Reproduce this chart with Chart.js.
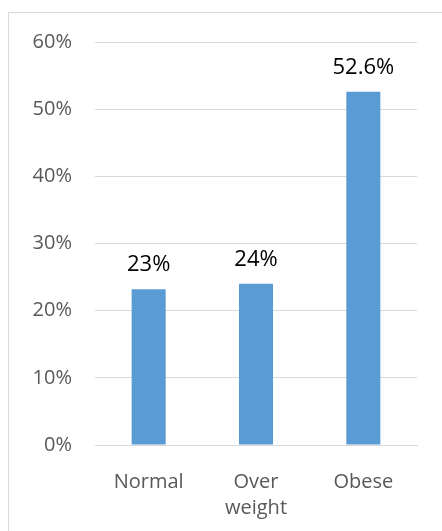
<!DOCTYPE html>
<html>
<head>
<meta charset="utf-8">
<script src="https://cdn.jsdelivr.net/npm/chart.js@4"></script>
<style>
  html, body { margin: 0; padding: 0; background: #fff; }
  #wrap { position: relative; width: 442px; height: 531px; overflow: hidden; }
  #frame { position: absolute; left: 8px; top: 12px; width: 460px; height: 560px; border: 1px solid #d9d9d9; }
  #chart { position: absolute; left: 0; top: 0; }
</style>
</head>
<body>
<div id="wrap">
  <div id="frame"></div>
  <canvas id="chart" width="442" height="531"></canvas>
</div>
<script>
// data
const categories = ['Normal', ['Over', 'weight'], 'Obese'];
const values = [23.2, 24.0, 52.6];
const valueLabels = ['23%', '24%', '52.6%'];
const yTicks = [0, 10, 20, 30, 40, 50, 60];

const FONT = "'Open Sans', 'DejaVu Sans', sans-serif";

// draws value labels above each bar
const barLabels = {
  id: 'barLabels',
  afterDatasetsDraw(chart) {
    const { ctx } = chart;
    const bars = chart.getDatasetMeta(0).data;
    ctx.save();
    ctx.font = '22px ' + FONT;
    ctx.fillStyle = '#000';
    ctx.textAlign = 'center';
    ctx.textBaseline = 'alphabetic';
    bars.forEach((bar, i) => {
      ctx.fillText(valueLabels[i], bar.x, bar.y - 18);
    });
    ctx.restore();
  }
};

new Chart(document.getElementById('chart').getContext('2d'), {
  type: 'bar',
  data: {
    labels: categories,
    datasets: [{
      data: values,
      backgroundColor: '#5b9bd5',
      borderWidth: 0,
      categoryPercentage: 1,
      barPercentage: 0.317
    }]
  },
  options: {
    responsive: false,
    animation: false,
    layout: { padding: { left: 0, right: 25, top: 42, bottom: 0 } },
    plugins: {
      legend: { display: false },
      tooltip: { enabled: false }
    },
    scales: {
      x: {
        grid: { display: false },
        border: { display: true, color: '#d9d9d9' },
        ticks: {
          color: '#595959',
          font: { family: FONT, size: 20, lineHeight: 1.3 },
          padding: 16,
          maxRotation: 0,
          autoSkip: false
        },
        afterFit(scale) { scale.height = 86; }
      },
      y: {
        min: yTicks[0],
        max: yTicks[yTicks.length - 1],
        afterBuildTicks(scale) { scale.ticks = yTicks.map(v => ({ value: v })); },
        grid: { color: '#d9d9d9', drawTicks: false },
        border: { display: false },
        ticks: {
          color: '#595959',
          font: { family: FONT, size: 20 },
          padding: 23,
          callback: v => v + '%'
        },
        afterFit(scale) { scale.width = 95; }
      }
    }
  },
  plugins: [barLabels]
});
</script>
</body>
</html>
